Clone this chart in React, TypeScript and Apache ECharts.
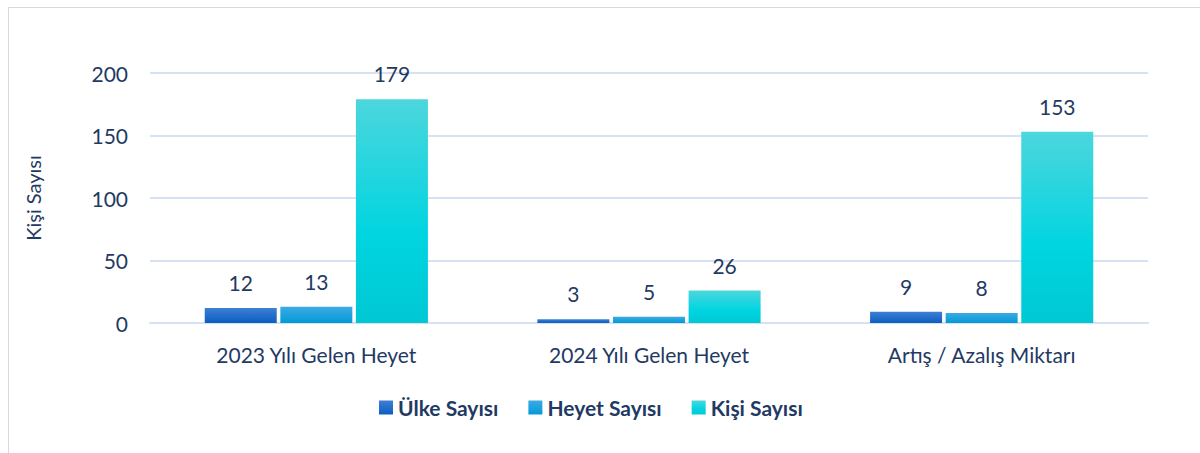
import React, { useEffect, useRef } from "react";
import * as echarts from "echarts";

const categories = ["2023 Yılı Gelen Heyet", "2024 Yılı Gelen Heyet", "Artış / Azalış Miktarı"];
const ulkeSayisi = [12, 3, 9];
const heyetSayisi = [13, 5, 8];
const kisiSayisi = [179, 26, 153];
const seriesNames = ["Ülke Sayısı", "Heyet Sayısı", "Kişi Sayısı"];

const navy = "#1f3a63";
const font = "Lato";

function grad(top: string, bottom: string) {
  return new echarts.graphic.LinearGradient(0, 0, 0, 1, [
    { offset: 0, color: top },
    { offset: 1, color: bottom },
  ]);
}

export default function App() {
  const ref = useRef<HTMLDivElement>(null);
  useEffect(() => {
    if (!ref.current) return;
    const chart = echarts.init(ref.current, undefined, { renderer: "svg" });
    const label = {
      show: true,
      position: "top" as const,
      distance: 15,
      color: navy,
      fontSize: 21,
      fontFamily: font,
    };
    chart.setOption({
      animation: false,
      textStyle: { fontFamily: font },
      grid: { left: 150, right: 52, top: 73, bottom: 130 },
      legend: {
        bottom: 30,
        left: 374,
        itemWidth: 14,
        itemHeight: 14,
        itemGap: 30,
        icon: "rect",
        textStyle: { color: navy, fontSize: 21, fontWeight: "bold", fontFamily: font },
        data: seriesNames,
      },
      xAxis: {
        type: "category",
        data: categories,
        axisLine: { lineStyle: { color: "#d6e2f3", width: 2 } },
        axisTick: { show: false },
        axisLabel: { color: navy, fontSize: 21, margin: 21, fontFamily: font },
      },
      yAxis: {
        type: "value",
        min: 0,
        max: 200,
        interval: 50,
        name: "Kişi Sayısı",
        nameLocation: "middle",
        nameGap: 107,
        nameRotate: 90,
        nameTextStyle: { color: navy, fontSize: 20, fontFamily: font },
        axisLine: { show: false },
        axisTick: { show: false },
        axisLabel: { color: navy, fontSize: 21, margin: 22, fontFamily: font },
        splitLine: { lineStyle: { color: "#d6e2f3", width: 2 } },
      },
      series: [
        {
          name: seriesNames[0],
          type: "bar",
          data: ulkeSayisi,
          barWidth: 72,
          barGap: "5%",
          itemStyle: { color: grad("#3f7fd3", "#0a5ec2") },
          label,
        },
        {
          name: seriesNames[1],
          type: "bar",
          data: heyetSayisi,
          barWidth: 72,
          barGap: "5%",
          itemStyle: { color: grad("#3eaae2", "#009ad9") },
          label,
        },
        {
          name: seriesNames[2],
          type: "bar",
          data: kisiSayisi,
          barWidth: 72,
          barGap: "5%",
          itemStyle: {
            color: new echarts.graphic.LinearGradient(0, 0, 0, 1, [
              { offset: 0, color: "#4dd6dd" },
              { offset: 0.6, color: "#00d5e0" },
              { offset: 1, color: "#00c8d3" },
            ]),
          },
          label,
        },
      ],
    });
    return () => chart.dispose();
  }, []);
  return (
    <div style={{ position: "fixed", left: 0, top: 0, width: 1200, height: 453, overflow: "hidden", background: "#fff" }}>
      <div
        style={{
          position: "absolute",
          left: 8,
          top: 7,
          width: 1300,
          height: 600,
          border: "1px solid #d9d9d9",
          boxSizing: "border-box",
        }}
      />
      <div ref={ref} style={{ position: "absolute", left: 0, top: 0, width: 1200, height: 453 }} />
    </div>
  );
}
